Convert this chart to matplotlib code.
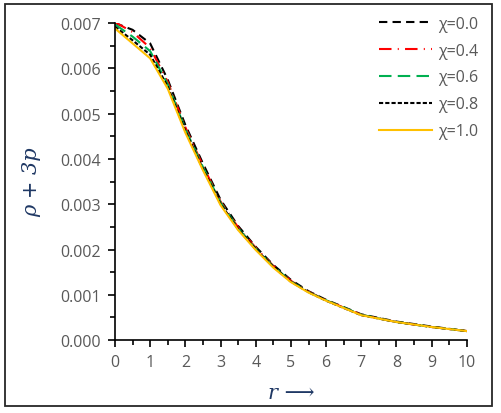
import matplotlib
matplotlib.use('Agg')
import matplotlib.pyplot as plt
from matplotlib.patches import Rectangle
from matplotlib.ticker import MultipleLocator

# radius values
r = [0, 0.5, 1, 1.5, 2, 2.5, 3, 3.5, 4, 4.5, 5, 5.5, 6, 7, 8, 9, 10]

# rho + 3p for each chi
chi_00 = [0.00700, 0.00685, 0.00655, 0.00575, 0.00475, 0.00390, 0.00310, 0.00252, 0.00206,
          0.00166, 0.00133, 0.00108, 0.00089, 0.00057, 0.00041, 0.00030, 0.00020]
chi_04 = [0.00702, 0.00680, 0.00645, 0.00570, 0.00470, 0.00385, 0.00306, 0.00249, 0.00204,
          0.00164, 0.00131, 0.00107, 0.00088, 0.00056, 0.00040, 0.00029, 0.00020]
chi_06 = [0.00697, 0.00670, 0.00638, 0.00565, 0.00466, 0.00382, 0.00304, 0.00247, 0.00202,
          0.00163, 0.00130, 0.00106, 0.00088, 0.00056, 0.00040, 0.00029, 0.00020]
chi_08 = [0.00692, 0.00662, 0.00630, 0.00560, 0.00462, 0.00378, 0.00301, 0.00245, 0.00201,
          0.00162, 0.00129, 0.00106, 0.00087, 0.00055, 0.00040, 0.00029, 0.00020]
chi_10 = [0.00688, 0.00655, 0.00622, 0.00555, 0.00458, 0.00375, 0.00298, 0.00243, 0.00199,
          0.00160, 0.00128, 0.00105, 0.00087, 0.00055, 0.00040, 0.00029, 0.00020]

labels = ['χ=0.0', 'χ=0.4', 'χ=0.6', 'χ=0.8', 'χ=1.0']

plt.rcParams['font.family'] = ['Open Sans', 'DejaVu Sans']
grey = '#595959'

fig = plt.figure(figsize=(5.02, 4.14), dpi=100)
ax = fig.add_axes([0.229, 0.176, 0.701, 0.766])

ax.plot(r, chi_00, color='black', lw=1.5, ls=(0, (4, 2.5)), label=labels[0])
ax.plot(r, chi_04, color='red', lw=1.5, ls=(0, (6, 3, 0.5, 3)), label=labels[1])
ax.plot(r, chi_06, color='#00B050', lw=1.5, ls=(0, (6, 3)), label=labels[2])
ax.plot(r, chi_08, color='black', lw=1.5, ls=(0, (2, 1)), label=labels[3])
ax.plot(r, chi_10, color='#FFC000', lw=1.5, label=labels[4])

ax.set_xlim(0, 10)
ax.set_ylim(0, 0.007)
ax.xaxis.set_major_locator(MultipleLocator(1))
ax.xaxis.set_minor_locator(MultipleLocator(0.5))
ax.yaxis.set_major_locator(MultipleLocator(0.001))
ax.yaxis.set_minor_locator(MultipleLocator(0.0005))
ax.yaxis.set_major_formatter(matplotlib.ticker.FormatStrFormatter('%.3f'))

for s in ['top', 'right']:
    ax.spines[s].set_visible(False)
for s in ['left', 'bottom']:
    ax.spines[s].set_linewidth(1.2)

ax.tick_params(which='major', direction='out', length=5, width=1.2, labelsize=11.5,
               labelcolor=grey, pad=5)
ax.tick_params(which='minor', direction='out', length=3.5, width=1.2)

ax.set_ylabel('ρ + 3p', fontsize=15, style='italic', color='#1F3864',
              family='DejaVu Serif', labelpad=14)
ax.set_xlabel('r ⟶', fontsize=15, style='italic', color='#1F3864',
              family='DejaVu Serif', labelpad=9)

leg = ax.legend(loc='upper right', bbox_to_anchor=(0.965, 0.975),
                bbox_transform=fig.transFigure, frameon=False, fontsize=11.5,
                handlelength=3.3, handletextpad=0.4, labelspacing=0.68,
                borderaxespad=0)
for t in leg.get_texts():
    t.set_color(grey)

fig.patches.append(Rectangle((0.010, 0.017), 0.970, 0.970, transform=fig.transFigure,
                             fill=False, edgecolor='#262626', lw=1.3))

fig.savefig('out.png', dpi=100)
